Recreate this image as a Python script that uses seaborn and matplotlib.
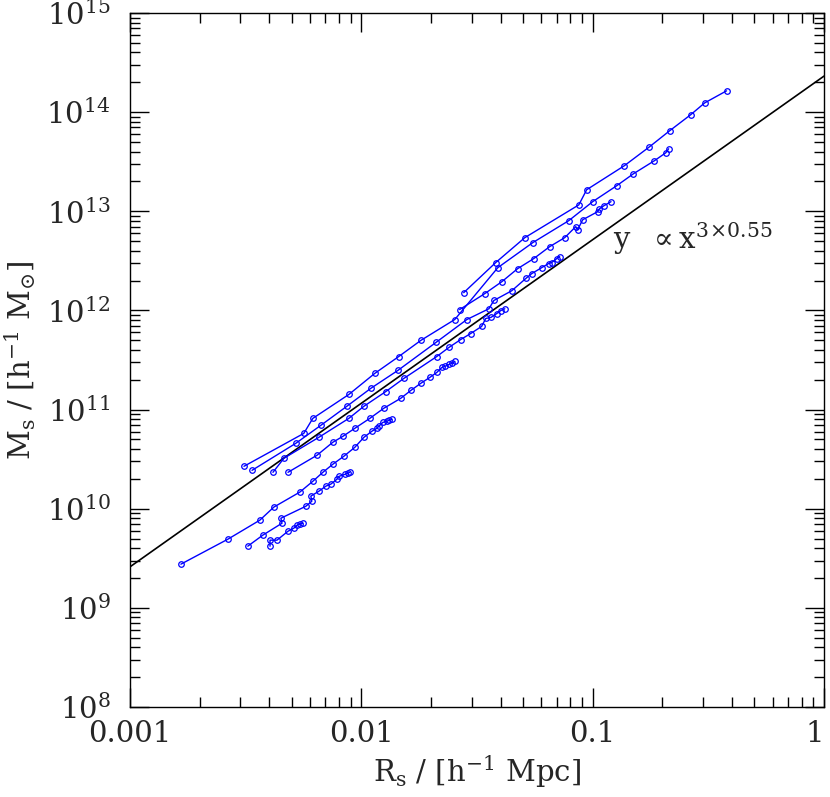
import numpy as np
import pandas as pd
import seaborn as sns
import matplotlib
matplotlib.use("Agg")
import matplotlib.pyplot as plt
from matplotlib.ticker import FixedLocator, FuncFormatter, LogLocator, NullFormatter

# halo tracks: scale radius R_s [h^-1 Mpc] and mass M_s [h^-1 Msun]
r1 = [0.00311, 0.00564, 0.00617, 0.00883, 0.01144, 0.01452, 0.01807, 0.02535, 0.0389,
      0.0551, 0.0788, 0.100, 0.127, 0.150, 0.185, 0.207, 0.213]
m1 = [2.68e10, 5.75e10, 8.15e10, 1.42e11, 2.32e11, 3.43e11, 4.98e11, 8.1e11, 2.70e12,
      4.83e12, 8.04e12, 1.25e13, 1.81e13, 2.39e13, 3.24e13, 3.89e13, 4.27e13]

r2 = [0.00337, 0.00521, 0.00668, 0.00866, 0.0110, 0.01438, 0.0210, 0.0286, 0.0356,
      0.0374, 0.0447, 0.0514, 0.0545, 0.0602, 0.0645, 0.0665, 0.0699, 0.0720]
m2 = [2.44e10, 4.57e10, 6.93e10, 1.08e11, 1.64e11, 2.48e11, 4.75e11, 8.1e11, 1.04e12,
      1.26e12, 1.58e12, 2.10e12, 2.35e12, 2.70e12, 2.97e12, 3.04e12, 3.33e12, 3.49e12]

r3 = [0.0277, 0.0381, 0.0509, 0.0871, 0.0942, 0.137, 0.176, 0.215, 0.265, 0.305, 0.379]
m3 = [1.51e12, 3.04e12, 5.42e12, 1.16e13, 1.65e13, 2.88e13, 4.47e13, 6.48e13, 9.4e13,
      1.24e14, 1.64e14]

r4 = [0.0266, 0.0342, 0.0405, 0.0474, 0.0556, 0.0652, 0.0757, 0.0845, 0.0861, 0.0906,
      0.105, 0.107, 0.112, 0.120]
m4 = [1.02e12, 1.48e12, 1.95e12, 2.64e12, 3.33e12, 4.40e12, 5.42e12, 7.0e12, 6.53e12,
      8.22e12, 9.9e12, 1.06e13, 1.14e13, 1.25e13]

r5 = [0.00415, 0.00463, 0.00655, 0.00883, 0.01026, 0.01276, 0.01526, 0.0212, 0.0239,
      0.0269, 0.0297, 0.0331, 0.0345, 0.0363, 0.0385, 0.0401, 0.0417]
m5 = [2.33e10, 3.23e10, 5.25e10, 8.15e10, 1.08e11, 1.52e11, 2.06e11, 3.43e11, 4.23e11,
      5.09e11, 5.85e11, 6.89e11, 8.3e11, 8.5e11, 9.3e11, 9.98e11, 1.04e12]

r6 = [0.00482, 0.00643, 0.00753, 0.00832, 0.00937, 0.01088, 0.0125, 0.01481, 0.01637,
      0.01807, 0.01977, 0.0212, 0.0223, 0.0229, 0.0239, 0.0246, 0.02535]
m6 = [2.33e10, 3.46e10, 4.68e10, 5.37e10, 6.47e10, 8.15e10, 1.03e11, 1.30e11, 1.56e11,
      1.84e11, 2.11e11, 2.37e11, 2.66e11, 2.72e11, 2.85e11, 2.92e11, 3.06e11]

r7 = [0.00166, 0.00265, 0.00364, 0.00419, 0.00542, 0.00617, 0.00682, 0.00753, 0.00840,
      0.00937, 0.01026, 0.0111, 0.01167, 0.0119, 0.01239, 0.01288, 0.01315, 0.01354]
m7 = [2.76e9, 4.93e9, 7.66e9, 1.04e10, 1.47e10, 1.89e10, 2.33e10, 2.81e10, 3.38e10,
      4.16e10, 5.25e10, 6.04e10, 6.47e10, 6.78e10, 7.43e10, 7.6e10, 7.78e10, 7.96e10]

r8 = [0.00323, 0.00375, 0.00454, 0.00449, 0.00576, 0.00611, 0.00605, 0.00655, 0.00703,
      0.00738, 0.00784, 0.0080, 0.00848, 0.00874, 0.00892]
m8 = [4.19e9, 5.41e9, 7.14e9, 8.02e9, 1.06e10, 1.19e10, 1.34e10, 1.50e10, 1.69e10,
      1.77e10, 1.98e10, 2.12e10, 2.22e10, 2.28e10, 2.33e10]

r9 = [0.00403, 0.00403, 0.00432, 0.00482, 0.00511, 0.00527, 0.00542, 0.00559]
m9 = [4.19e9, 4.82e9, 4.82e9, 5.93e9, 6.37e9, 6.82e9, 6.98e9, 7.14e9]

# reference power law y ~ x^(3*0.55)
line_x = np.array([0.001, 1.0])
line_norm = 2.31e14
line_slope = 3 * 0.55

tracks = [(r1, m1), (r2, m2), (r3, m3), (r4, m4), (r5, m5),
          (r6, m6), (r7, m7), (r8, m8), (r9, m9)]
frames = []
for i, (r, m) in enumerate(tracks):
    frames.append(pd.DataFrame({"R": r, "M": m, "halo": i}))
df = pd.concat(frames, ignore_index=True)

sns.set_style("ticks")
plt.rcParams["font.family"] = "DejaVu Serif"
plt.rcParams["mathtext.fontset"] = "dejavuserif"

fig = plt.figure(figsize=(8.3, 7.97), dpi=100)
ax = fig.add_axes([0.1566, 0.1129, 0.8362, 0.8708])
ax.set_xscale("log")
ax.set_yscale("log")

sns.lineplot(x=line_x, y=line_norm * line_x ** line_slope, color="black", lw=1.2, ax=ax)
sns.lineplot(data=df, x="R", y="M", units="halo", estimator=None, sort=False,
             color="blue", lw=1, marker="o", markersize=4, markerfacecolor="none",
             markeredgecolor="blue", markeredgewidth=0.9, legend=False, ax=ax)

ax.text(0.123, 4.2e12, r"y  $\propto$x$^{3\!\times\!0.55}$", fontsize=21)

ax.set_xlim(1e-3, 1)
ax.set_ylim(1e8, 1e15)

ax.xaxis.set_major_locator(FixedLocator([0.001, 0.01, 0.1, 1]))
ax.xaxis.set_major_formatter(FuncFormatter(lambda v, _: {0.001: "0.001", 0.01: "0.01", 0.1: "0.1"}.get(round(v, 4), "1")))
ax.xaxis.set_minor_locator(LogLocator(base=10, subs=np.arange(2, 10)))
ax.xaxis.set_minor_formatter(NullFormatter())
ax.yaxis.set_major_locator(FixedLocator([10.0 ** k for k in range(8, 16)]))
ax.yaxis.set_major_formatter(FuncFormatter(lambda v, _: r"$10^{%d}$" % round(np.log10(v))))
ax.yaxis.set_minor_locator(LogLocator(base=10, subs=np.arange(2, 10), numticks=20))
ax.yaxis.set_minor_formatter(NullFormatter())

ax.tick_params(which="both", direction="in", top=True, right=True, width=1, color="black",
               labelsize=21)
ax.tick_params(axis="x", pad=9)
ax.tick_params(axis="y", pad=14)
ax.tick_params(which="major", length=14)
ax.tick_params(which="minor", length=7)
for s in ax.spines.values():
    s.set_linewidth(1)
    s.set_color("black")

ax.set_xlabel(r"R$_{\rm s}$ / [h$^{-1}$ Mpc]", fontsize=21, labelpad=4)
ax.set_ylabel(r"M$_{\rm s}$ / [h$^{-1}$ M$_{\odot}$]", fontsize=21, labelpad=6)

# keep the "1" label at the right edge inside the figure
fig.canvas.draw()
ax.get_xticklabels()[-1].set_horizontalalignment("right")

fig.savefig("out.png", dpi=100)
